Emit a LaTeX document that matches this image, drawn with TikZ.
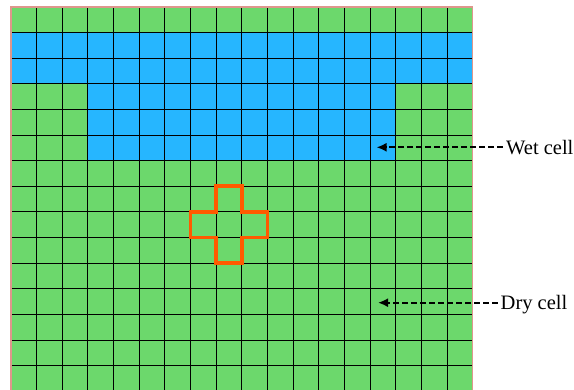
\documentclass[tikz,border=0pt]{standalone}
\usepackage{fontspec}
\setmainfont{Liberation Serif}
\usetikzlibrary{arrows.meta}
\definecolor{cellgreen}{RGB}{108,216,108}
\definecolor{cellblue}{RGB}{38,182,255}
\definecolor{crossorange}{RGB}{255,90,0}
\definecolor{edgepink}{RGB}{222,150,140}
\tikzset{
  gridline/.style={black, line width=0.95pt},
  frameedge/.style={edgepink, line width=1.5pt},
  crossline/.style={crossorange, line width=3.8pt, line join=miter},
  celllabel/.style={font=\fontsize{20.5}{24}\selectfont, inner sep=3pt, anchor=base west},
  pointer/.style={black, line width=2pt, dash pattern=on 6pt off 3pt, -{Latex[length=10pt,width=9pt]}},
}
\begin{document}
\begin{tikzpicture}[x=1pt,y=-1pt]
\useasboundingbox (0,0) rectangle (574,390);
\clip (0,0) rectangle (574,390);
\begin{scope}[shift={(11,7)}, x=25.65pt, y=-25.62pt]
  \fill[cellgreen] (0,0) rectangle (18,15);
  \fill[cellblue] (0,1) rectangle (18,3);
  \fill[cellblue] (3,3) rectangle (15,6);
  \foreach \c in {1,...,17} \draw[gridline] (\c,0) -- (\c,15);
  \foreach \r in {1,...,14} \draw[gridline] (0,\r) -- (18,\r);
  \draw[frameedge] (0,0) rectangle (18,15);
  \draw[crossline] (8,7) -- (9,7) -- (9,8) -- (10,8) -- (10,9) -- (9,9) -- (9,10)
    -- (8,10) -- (8,9) -- (7,9) -- (7,8) -- (8,8) -- cycle;
\end{scope}
\coordinate (wettip) at (376.5,147.3);
\coordinate (drytip) at (378,302.7);
\node[celllabel] (wet) at (503,154.2) {Wet cell};
\node[celllabel] (dry) at (497.5,309.5) {Dry cell};
\draw[pointer] (wet.west |- wettip) -- (wettip);
\draw[pointer] (dry.west |- drytip) -- (drytip);
\end{tikzpicture}
\end{document}
